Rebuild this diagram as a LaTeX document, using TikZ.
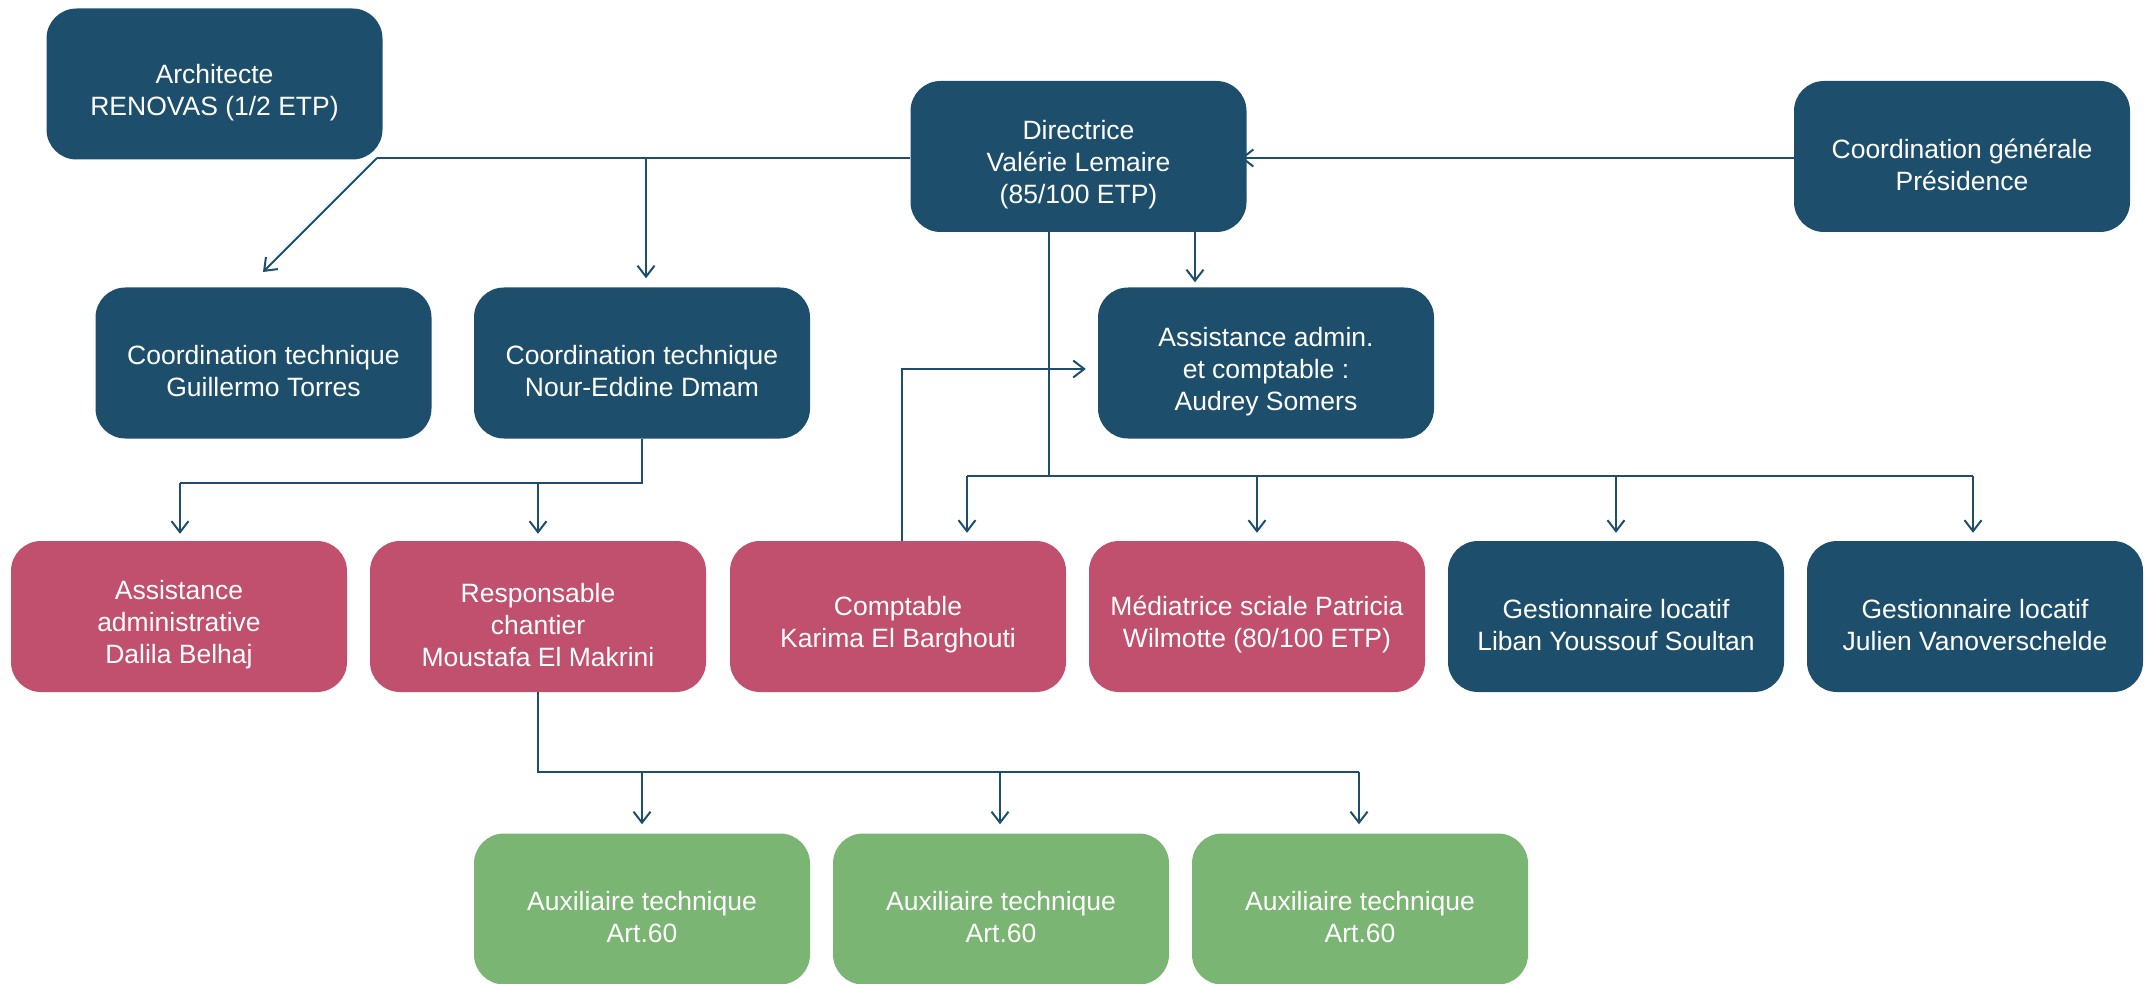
\documentclass[tikz,border=0pt]{standalone}
\usepackage{fontspec}
\setmainfont{Liberation Sans}
\usetikzlibrary{arrows.meta}
\definecolor{navy}{HTML}{1D4F6C}
\definecolor{rose}{HTML}{C0506E}
\definecolor{leaf}{HTML}{7BB573}
\newcommand\lifttext{\rule{0pt}{36pt}}
\tikzset{
  box/.style={rounded corners=30pt, minimum width=336pt, minimum height=151pt,
    text=white, align=center, inner sep=4pt,
    font=\fontsize{26.5}{32}\selectfont},
  bluebox/.style={box, fill=navy},
  pinkbox/.style={box, fill=rose},
  greenbox/.style={box, fill=leaf},
  link/.style={draw=navy, line width=2pt},
  arr/.style={link, -{Straight Barb[length=11pt,width=17pt,line width=2pt]}},
}
\begin{document}
\begin{tikzpicture}[x=1pt,y=-1pt]
\useasboundingbox (0,0) rectangle (2150,984);
% top row
\node[bluebox] (arch) at (214.5,84) {\lifttext Architecte\\RENOVAS (1/2 ETP)};
\node[bluebox] (dir) at (1078.5,156.5) {\lifttext Directrice\\Valérie Lemaire\\(85/100 ETP)};
\node[bluebox] (pres) at (1962,156.5) {\lifttext Coordination générale\\Présidence};
% second row
\node[bluebox] (ct1) at (263.5,363) {\lifttext Coordination technique\\Guillermo Torres};
\node[bluebox] (ct2) at (642,363) {\lifttext Coordination technique\\Nour-Eddine Dmam};
\node[bluebox] (asa) at (1266,363) {\lifttext Assistance admin.\\et comptable :\\Audrey Somers};
% third row
\node[pinkbox] (aa) at (179,616.5) {\lifttext Assistance\\administrative\\Dalila Belhaj};
\node[pinkbox] (resp) at (538,616.5) {\lifttext Responsable\\chantier\\Moustafa El Makrini};
\node[pinkbox] (compt) at (898,616.5) {\lifttext Comptable\\Karima El Barghouti};
\node[pinkbox] (med) at (1257,616.5) {\lifttext Médiatrice sciale Patricia\\Wilmotte (80/100 ETP)};
\node[bluebox] (g1) at (1616,616.5) {\lifttext Gestionnaire locatif\\Liban Youssouf Soultan};
\node[bluebox] (g2) at (1975,616.5) {\lifttext Gestionnaire locatif\\Julien Vanoverschelde};
% fourth row
\node[greenbox] (aux1) at (642,909) {\lifttext Auxiliaire technique\\Art.60};
\node[greenbox] (aux2) at (1001,909) {\lifttext Auxiliaire technique\\Art.60};
\node[greenbox] (aux3) at (1360,909) {\lifttext Auxiliaire technique\\Art.60};
% junction coordinates
\coordinate (j1) at (377,158);
\coordinate (j2) at (646,158);
\coordinate (tipG) at (263,272);
\coordinate (d1) at (1195,0);
\coordinate (d2) at (1049,476);
\coordinate (hL) at (967,476);
\coordinate (hR) at (1973,476);
\coordinate (c1) at (902,369);
\coordinate (n1) at (642,483);
\coordinate (n2) at (180,483);
\coordinate (n3) at (538,483);
\coordinate (r1) at (538,772);
\coordinate (r2) at (642,772);
\coordinate (r3) at (1000,772);
\coordinate (r4) at (1359,772);
% connectors
\draw[arr, shorten >=-6pt] (pres.west |- j1) -- (dir.east |- j1);
\draw[link] (dir.west |- j1) -- (j1);
\draw[arr] (j1) -- (tipG);
\draw[arr, shorten >=9pt] (j2) -- (ct2.north -| j2);
\draw[arr, shorten >=5pt] (dir.south -| d1) -- (asa.north -| d1);
\draw[link] (dir.south -| d2) -- (d2);
\draw[link] (hL) -- (hR);
\draw[arr, shorten >=8pt] (hL) -- (compt.north -| hL);
\draw[arr, shorten >=8pt] (med.north |- hL) -- (med.north);
\draw[arr, shorten >=8pt] (g1.north |- hL) -- (g1.north);
\draw[arr, shorten >=8pt] (hR) -- (g2.north -| hR);
\draw[arr, shorten >=12pt] (compt.north -| c1) -- (c1) -- (asa.west |- c1);
\draw[link] (ct2.south) -- (n1) -- (n2);
\draw[arr, shorten >=7pt] (n2) -- (aa.north -| n2);
\draw[arr, shorten >=7pt] (n3) -- (resp.north -| n3);
\draw[link] (resp.south) -- (r1) -- (r4);
\draw[arr, shorten >=9pt] (r2) -- (aux1.north -| r2);
\draw[arr, shorten >=9pt] (r3) -- (aux2.north -| r3);
\draw[arr, shorten >=9pt] (r4) -- (aux3.north -| r4);
\end{tikzpicture}
\end{document}
